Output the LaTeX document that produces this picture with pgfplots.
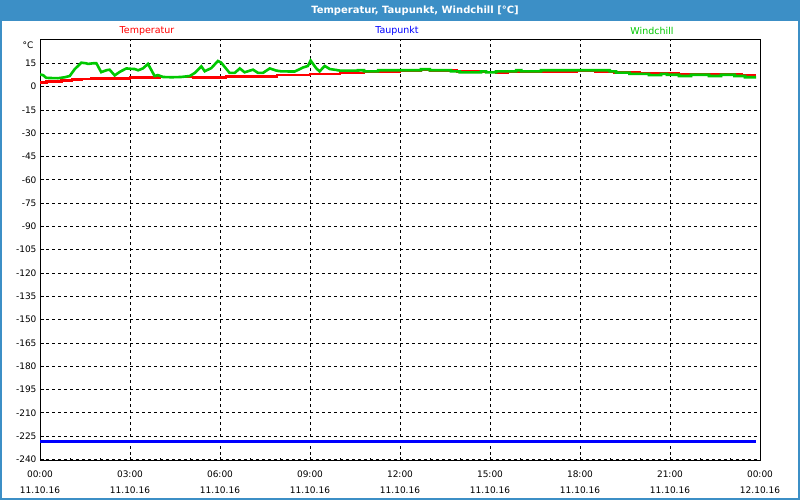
\documentclass[border=0pt]{standalone}
\usepackage{fontspec}
\setmainfont{DejaVu Sans}
\usepackage{pgfplots}
\pgfplotsset{compat=1.18}
\definecolor{frameblue}{RGB}{60,143,198}
\definecolor{tempred}{RGB}{255,0,0}
\definecolor{chillgreen}{RGB}{0,200,0}
\definecolor{dewblue}{RGB}{0,0,255}
\newcommand{\chartfont}{\fontsize{9}{11}\selectfont}
\begin{document}
\begin{tikzpicture}[x=1pt,y=1pt]
\useasboundingbox (0,0) rectangle (800,500);
\fill[frameblue] (0,0) rectangle (800,500);
\fill[white] (2,2) rectangle (798,479);
\node[white,font=\fontsize{10}{12}\selectfont\bfseries] at (415,489.5) {Temperatur, Taupunkt, Windchill [°C]};
\node[tempred,font=\fontsize{9.5}{11}\selectfont] at (147,469) {Temperatur};
\node[dewblue,font=\fontsize{9.5}{11}\selectfont] at (397,469) {Taupunkt};
\node[chillgreen,font=\fontsize{9.5}{11}\selectfont] at (652,469) {Windchill};
\node[font=\chartfont,anchor=east] at (37,455) {°C};
\begin{axis}[
  at={(40pt,39pt)}, anchor=south west,
  scale only axis, width=720pt, height=421pt,
  xmin=0, xmax=24, ymin=-241, ymax=30,
  xtick={0,3,...,24},
  xticklabels={{00:00\\11.10.16},{03:00\\11.10.16},{06:00\\11.10.16},{09:00\\11.10.16},{12:00\\11.10.16},{15:00\\11.10.16},{18:00\\11.10.16},{21:00\\11.10.16},{00:00\\12.10.16}},
  xticklabel style={align=center,font=\fontsize{9}{16}\selectfont,yshift=-6pt},
  minor x tick num=2,
  ytick={-240,-225,...,15},
  yticklabel style={font=\chartfont},
  /pgf/number format/assume math mode=true,
  tick align=inside, xtick pos=bottom, ytick pos=left,
  major tick length=4pt, minor tick length=3pt,
  tick style={black,line width=0.8pt},
  grid=major,
  major grid style={black,line width=0.8pt,dash pattern=on 3pt off 3pt},
  axis line style={black,line width=1pt},
]
\addplot[tempred,line width=2.6pt] coordinates {
(0,2.7)(0.22,2.7)(0.22,3.4)(0.72,3.4)(0.72,4.0)(1.06,4.0)(1.06,4.5)(1.4,4.5)(1.4,5.0)(1.72,5.0)(1.72,5.4)(3.0,5.4)(3.0,5.8)(4.0,5.8)(4.0,6.3)(5.1,6.3)(5.1,5.8)(6.2,5.8)(6.2,6.6)(7.9,6.6)(7.9,7.4)(9.0,7.4)(9.0,8.0)(10.0,8.0)(10.0,8.8)(10.8,8.8)(10.8,9.8)(12.0,9.8)(12.0,10.3)(12.7,10.3)(12.7,10.8)(13.0,10.8)(13.0,10.3)(13.9,10.3)(13.9,9.8)(14.8,9.8)(14.8,9.5)(15.2,9.5)(15.2,9.0)(15.6,9.0)(15.6,9.5)(16.7,9.5)(16.7,9.8)(17.9,9.8)(17.9,10.2)(18.5,10.2)(18.5,9.6)(19.15,9.6)(19.15,9.0)(20.0,9.0)(20.0,8.6)(21.3,8.6)(21.3,8.2)(22.4,8.2)(22.4,8.0)(23.4,8.0)(23.4,7.2)(23.87,7.2)
};
\addplot[dewblue,line width=2.4pt] coordinates {(0,-228.4)(23.87,-228.4)};
\addplot[chillgreen,line width=2.6pt] coordinates {
(0,7.8)(0.1,7.4)(0.21,5.6)(0.6,5.4)(0.82,6.0)(0.99,6.8)(1.16,11.3)(1.38,15.4)(1.54,15.0)(1.6,14.6)(1.77,15.0)(1.88,15.0)(2.04,9.3)(2.21,10.5)(2.32,10.9)(2.49,7.2)(2.66,9.5)(2.88,11.7)(2.99,11.5)(3.16,11.3)(3.27,10.5)(3.43,11.7)(3.6,14.6)(3.82,6.8)(3.93,7.4)(4.1,6.2)(4.38,6.0)(4.71,6.2)(4.99,6.8)(5.16,8.8)(5.38,13.0)(5.49,9.9)(5.71,11.9)(5.93,16.5)(6.04,15.4)(6.32,8.8)(6.49,8.8)(6.66,11.7)(6.82,9.2)(7.1,10.9)(7.27,8.8)(7.43,8.8)(7.66,11.7)(7.88,10.3)(8.04,9.8)(8.49,9.7)(8.77,12.3)(8.93,13.3)(9.02,16.8)(9.21,11.7)(9.32,9.8)(9.49,13.3)(9.66,11.3)(9.88,10.7)(9.99,10.3)(10.6,10.3)(10.6,10.5)(10.8,10.5)(10.8,9.8)(11.27,9.8)(11.27,10.5)(12.7,10.5)(12.7,11.2)(12.99,11.2)(12.99,10.5)(13.7,10.5)(13.7,9.8)(13.99,9.8)(13.99,9.2)(14.7,9.2)(14.7,9.8)(14.87,9.8)(14.87,9.2)(15.2,9.2)(15.2,9.8)(15.87,9.8)(15.87,10.5)(16.04,10.5)(16.04,9.8)(16.7,9.8)(16.7,10.5)(18.99,10.5)(18.99,9.8)(19.2,9.8)(19.2,9.0)(19.65,9.0)(19.65,8.2)(20.3,8.2)(20.3,7.4)(20.7,7.4)(20.7,8.2)(20.9,8.2)(20.9,7.6)(21.3,7.6)(21.3,6.8)(21.7,6.8)(21.7,7.6)(22.3,7.6)(22.3,6.8)(22.7,6.8)(22.7,7.6)(23.15,7.6)(23.15,6.8)(23.5,6.8)(23.5,6.0)(23.87,6.0)
};
\end{axis}
\end{tikzpicture}
\end{document}
